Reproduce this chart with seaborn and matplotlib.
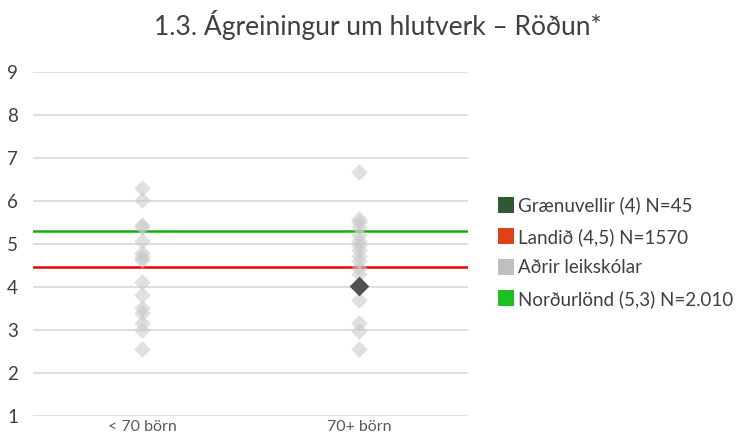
import matplotlib
matplotlib.use("Agg")
import matplotlib.pyplot as plt
from matplotlib.lines import Line2D
import seaborn as sns
import pandas as pd

categories = ["< 70 börn", "70+ börn"]
others_small = [6.3, 6.03, 5.45, 5.4, 5.08, 4.8, 4.7, 4.62, 4.12, 3.81, 3.52, 3.4, 3.16, 3.0, 2.55]
others_large = [6.68, 5.58, 5.5, 5.4, 5.2, 5.08, 4.98, 4.86, 4.72, 4.6, 4.44, 4.3, 3.7, 3.16, 2.97, 2.55]
school_category = ["70+ börn"]
school_value = [4.03]
landid_value = 4.47
nordurlond_value = 5.3
legend_labels = ["Grænuvellir (4) N=45", "Landið (4,5) N=1570", "Aðrir leikskólar", "Norðurlönd (5,3) N=2.010"]
title = "1.3. Ágreiningur um hlutverk – Röðun*"

df_others = pd.DataFrame({
    "cat": [categories[0]] * len(others_small) + [categories[1]] * len(others_large),
    "val": others_small + others_large,
})
df_school = pd.DataFrame({"cat": school_category, "val": school_value})

sns.set_theme(style="white")
plt.rcParams["font.family"] = ["Lato", "DejaVu Sans"]

fig = plt.figure(figsize=(7.56, 4.38), dpi=100)
ax = fig.add_axes([0.044, 0.050, 0.575, 0.786])

text_col = "#404040"
for v in range(1, 10):
    ax.axhline(v, color="#d9d9d9", lw=1.2, zorder=0)

ax.axhline(landid_value, color="#f00000", lw=1.8, zorder=1)
ax.axhline(nordurlond_value, color="#10b010", lw=1.8, zorder=1)

sns.stripplot(data=df_others, x="cat", y="val", order=categories, jitter=False,
              marker="D", s=8.5, color="#c8c8c8", alpha=0.55, linewidth=0, ax=ax, zorder=3)
sns.stripplot(data=df_school, x="cat", y="val", order=categories, jitter=False,
              marker="D", s=10, color="#505050", linewidth=0, ax=ax, zorder=4)

ax.set_xlim(-0.5, 1.5)
ax.set_ylim(1, 9)
ax.set_yticks(range(1, 10))
ax.set_xlabel("")
ax.set_ylabel("")
for s in ax.spines.values():
    s.set_visible(False)
ax.tick_params(axis="y", length=0, labelsize=13.5, labelcolor=text_col, pad=11)
ax.tick_params(axis="x", length=0, labelsize=11.5, labelcolor="#595959", pad=3)

fig.suptitle(title, x=0.5, y=0.978, fontsize=19, color=text_col)

leg_colors = ["#2e5a33", "#e0401a", "#bfbfbf", "#1ec01e"]
handles = [Line2D([0], [0], marker="s", linestyle="", markersize=12, markerfacecolor=c,
                  markeredgewidth=0) for c in leg_colors]
fig.legend(handles, legend_labels, loc="center left", bbox_to_anchor=(0.636, 0.424),
           frameon=False, labelcolor=text_col, handletextpad=0.2,
           labelspacing=0.72, handlelength=0.9, prop={"size": 13.5})

fig.savefig("out.png", dpi=100)
